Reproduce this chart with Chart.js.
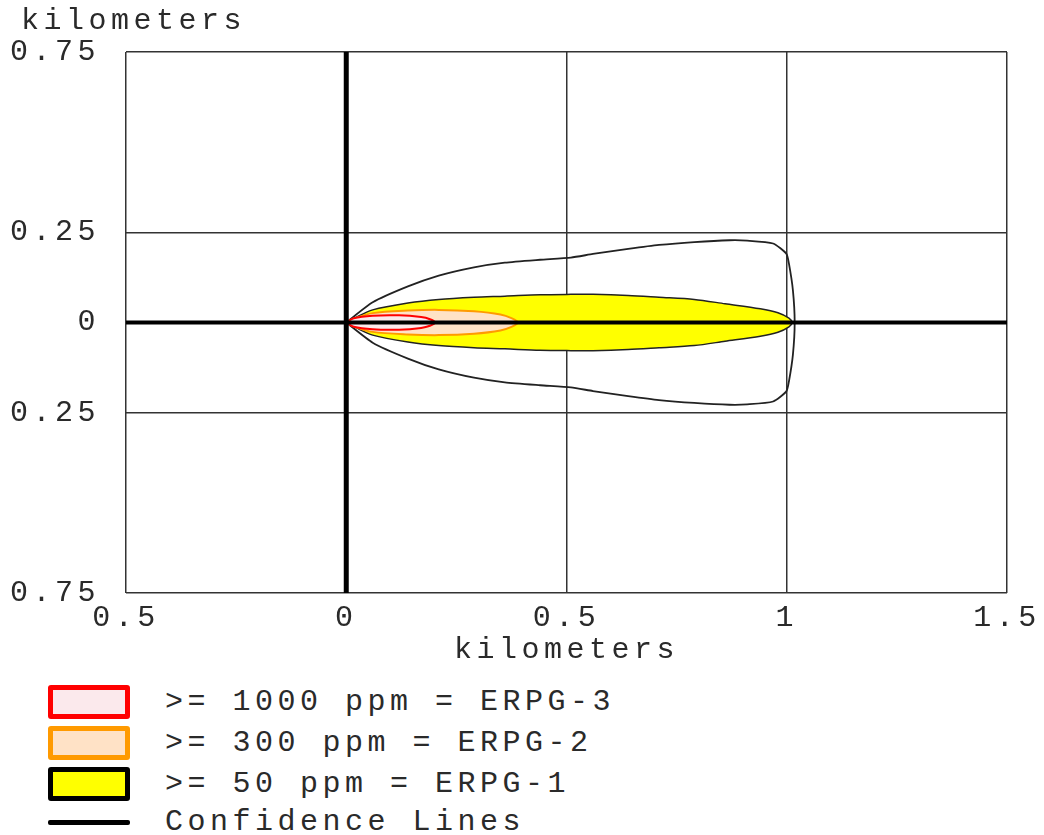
<!DOCTYPE html>
<html>
<head>
<meta charset="utf-8">
<title>Threat Zone</title>
<script src="https://cdn.jsdelivr.net/npm/chart.js@4/dist/chart.umd.min.js"></script>
<style>

body{
    margin:0;
    background:#ffffff;
    width:1044px;
    height:835px;
    position:relative;
    overflow:hidden;
    font-family:"Liberation Mono", monospace;
}

#chartBox{
    position:absolute;
    left:0;
    top:0;
    width:1044px;
    height:668px;
}

.legendRow{
    position:absolute;
    left:48px;
    height:34px;
    display:flex;
    align-items:center;
}

.legendBox{
    width:72px;
    height:24px;
    border-width:5px;
    border-style:solid;
    border-radius:3px;
}

.legendLine{
    width:82px;
    height:5px;
    background:#000000;
    border-radius:2px;
}

.legendText{
    position:absolute;
    left:117px;
    white-space:nowrap;
    font-size:30px;
    letter-spacing:4.5px;
    color:#2a2a2a;
}

</style>
</head>
<body>

<div id="chartBox">
    <canvas id="zoneChart" width="1044" height="668"></canvas>
</div>

<div class="legendRow" style="top:685px;">
    <div class="legendBox" style="border-color:#ff0000;background:#fbe9ec;"></div>
    <div class="legendText">&gt;= 1000 ppm = ERPG-3</div>
</div>

<div class="legendRow" style="top:726px;">
    <div class="legendBox" style="border-color:#ff9a00;background:#ffe2c6;"></div>
    <div class="legendText">&gt;= 300 ppm = ERPG-2</div>
</div>

<div class="legendRow" style="top:767px;">
    <div class="legendBox" style="border-color:#000000;background:#ffff00;"></div>
    <div class="legendText">&gt;= 50 ppm = ERPG-1</div>
</div>

<div class="legendRow" style="top:805px;">
    <div class="legendLine"></div>
    <div class="legendText">Confidence Lines</div>
</div>

<script>

//======================================================
// DATA (kilometers, upper half of each footprint)
//======================================================

const xTicks = [-0.5, 0, 0.5, 1, 1.5];
const yTicks = [-0.75, -0.25, 0, 0.25, 0.75];

const erpg3X = [0, 0.017, 0.06, 0.12, 0.17, 0.19, 0.202];
const erpg3Y = [0, 0.012, 0.019, 0.020, 0.015, 0.009, 0];

const erpg2X = [0, 0.02, 0.06, 0.14, 0.21, 0.29, 0.35, 0.375, 0.39];
const erpg2Y = [0, 0.012, 0.026, 0.033, 0.035, 0.031, 0.022, 0.012, 0];

const erpg1X = [0, 0.02, 0.06, 0.14, 0.21, 0.29, 0.36, 0.44, 0.51, 0.56, 0.64, 0.71, 0.79, 0.86, 0.94, 0.98, 1.005, 1.012];
const erpg1Y = [0, 0.013, 0.035, 0.054, 0.064, 0.070, 0.073, 0.077, 0.078, 0.078, 0.075, 0.070, 0.064, 0.052, 0.038, 0.027, 0.012, 0];

const confX = [0, 0.06, 0.14, 0.21, 0.29, 0.36, 0.44, 0.51, 0.56, 0.64, 0.71, 0.79, 0.87, 0.91, 0.969, 0.999, 1.005, 1.014, 1.018];
const confY = [0, 0.056, 0.10, 0.13, 0.153, 0.166, 0.174, 0.180, 0.190, 0.204, 0.215, 0.223, 0.228, 0.227, 0.219, 0.191, 0.163, 0.089, 0];

const axisX = [-0.5, 1.5];
const axisY = [-0.75, 0.75];

//======================================================
// HELPERS
//======================================================

const FONT = "Liberation Mono";
const FONT_SIZE = 30;
const LETTER_GAP = "4.5px";
const TEXT_COLOR = "#2a2a2a";

// closed outline: top edge out, mirrored bottom edge back
function footprint(xs, ys){

    const pts = [];

    for(let i = 0; i < xs.length; i++){
        pts.push({x:xs[i], y:ys[i]});
    }

    for(let i = xs.length - 2; i >= 0; i--){
        pts.push({x:xs[i], y:-ys[i]});
    }

    return pts;

}

function spacing(chart){

    chart.ctx.letterSpacing = LETTER_GAP;

}

//======================================================
// PLUGIN: letter spacing + top axis caption
//======================================================

const captionPlugin = {

    id:"caption",

    beforeLayout(chart){
        spacing(chart);
    },

    beforeDraw(chart){
        spacing(chart);
    },

    afterDraw(chart){

        const ctx = chart.ctx;

        ctx.save();
        ctx.letterSpacing = LETTER_GAP;
        ctx.font = FONT_SIZE + "px '" + FONT + "'";
        ctx.fillStyle = TEXT_COLOR;
        ctx.textAlign = "left";
        ctx.textBaseline = "middle";
        ctx.fillText("kilometers", 21, 21);
        ctx.restore();

    }

};

//======================================================
// BUILD CHART
//======================================================

document.addEventListener("DOMContentLoaded", function(){

    const ctx = document.getElementById("zoneChart").getContext("2d");

    new Chart(ctx,{

        type:"scatter",

        data:{

            datasets:[

                {
                    label:"axisH",
                    data:[{x:axisX[0], y:0}, {x:axisX[1], y:0}],
                    showLine:true,
                    borderColor:"#000000",
                    borderWidth:4,
                    pointRadius:0
                },

                {
                    label:"axisV",
                    data:[{x:0, y:axisY[0]}, {x:0, y:axisY[1]}],
                    showLine:true,
                    borderColor:"#000000",
                    borderWidth:5,
                    pointRadius:0
                },

                {
                    label:">= 1000 ppm = ERPG-3",
                    data:footprint(erpg3X, erpg3Y),
                    showLine:true,
                    fill:"shape",
                    backgroundColor:"#fbe9ec",
                    borderColor:"#ff0000",
                    borderWidth:2,
                    tension:0.3,
                    pointRadius:0
                },

                {
                    label:">= 300 ppm = ERPG-2",
                    data:footprint(erpg2X, erpg2Y),
                    showLine:true,
                    fill:"shape",
                    backgroundColor:"#ffe2c6",
                    borderColor:"#ff9a00",
                    borderWidth:2,
                    tension:0.3,
                    pointRadius:0
                },

                {
                    label:">= 50 ppm = ERPG-1",
                    data:footprint(erpg1X, erpg1Y),
                    showLine:true,
                    fill:"shape",
                    backgroundColor:"#ffff00",
                    borderColor:"#222222",
                    borderWidth:1.5,
                    tension:0.3,
                    pointRadius:0
                },

                {
                    label:"Confidence Lines",
                    data:footprint(confX, confY),
                    showLine:true,
                    fill:false,
                    borderColor:"#222222",
                    borderWidth:1.8,
                    tension:0.2,
                    pointRadius:0
                }

            ]

        },

        options:{

            responsive:false,

            animation:false,

            events:[],

            layout:{
                padding:{top:52, right:37, left:10, bottom:0}
            },

            plugins:{
                legend:{display:false},
                tooltip:{enabled:false}
            },

            scales:{

                x:{

                    type:"linear",
                    min:xTicks[0],
                    max:xTicks[xTicks.length - 1],

                    afterBuildTicks(scale){
                        scale.ticks = xTicks.map(v => ({value:v}));
                    },

                    afterFit(scale){
                        scale.height = 75;
                        scale.paddingRight = 0;
                    },

                    grid:{
                        color:"#333333",
                        lineWidth:1.5,
                        drawTicks:false
                    },

                    border:{display:false},

                    ticks:{
                        padding:7,
                        color:TEXT_COLOR,
                        font:{family:FONT, size:FONT_SIZE},
                        maxRotation:0,
                        callback:v => String(Math.abs(v))
                    },

                    title:{
                        display:true,
                        text:"kilometers",
                        color:TEXT_COLOR,
                        font:{family:FONT, size:FONT_SIZE},
                        padding:{top:0, bottom:0}
                    }

                },

                y:{

                    type:"linear",
                    min:yTicks[0],
                    max:yTicks[yTicks.length - 1],

                    afterBuildTicks(scale){
                        scale.ticks = yTicks.map(v => ({value:v}));
                    },

                    afterFit(scale){
                        scale.width = 116;
                    },

                    grid:{
                        color:"#333333",
                        lineWidth:1.5,
                        drawTicks:false
                    },

                    border:{display:false},

                    ticks:{
                        padding:26,
                        color:TEXT_COLOR,
                        font:{family:FONT, size:FONT_SIZE},
                        callback:v => String(Math.abs(v))
                    }

                }

            }

        },

        plugins:[captionPlugin]

    });

});

</script>
</body>
</html>
